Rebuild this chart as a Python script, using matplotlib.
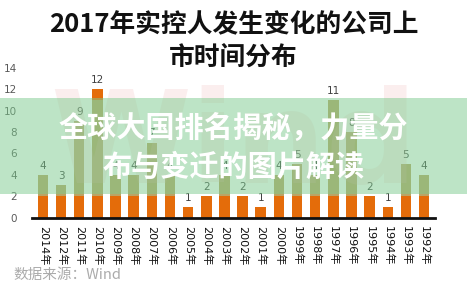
import matplotlib

matplotlib.use("Agg")
import matplotlib.pyplot as plt
import numpy as np

CJK = ["Noto Sans CJK SC", "DejaVu Sans"]

YEARS = [
    "2014年", "2012年", "2011年", "2010年", "2009年", "2008年", "2007年", "2006年",
    "2005年", "2004年", "2003年", "2002年", "2001年", "2000年", "1999年", "1998年",
    "1997年", "1996年", "1995年", "1994年", "1993年", "1992年",
]
# three stacked segments per listing year
BASE = [2, 2, 2, 2, 2, 2, 2, 2, 1, 2, 2, 2, 1, 2, 2, 2, 2, 2, 2, 1, 2, 2]
MIDDLE = [2, 1, 7, 9, 2, 2, 5, 2, 0, 0, 2, 0, 0, 2, 3, 2, 9, 6, 0, 0, 3, 2]
TOP = [0, 0, 0, 1, 0, 0, 0, 0, 0, 0, 0, 0, 0, 0, 0, 0, 0, 0, 0, 0, 0, 0]
Y_TICKS = [0, 2, 4, 6, 8, 10, 12, 14]

TITLE_LINES = ["2017年实控人发生变化的公司上", "市时间分布"]
BANNER_LINES = ["全球大国排名揭秘，力量分", "布与变迁的图片解读"]
SOURCE = "数据来源：Wind"

ORANGE = "#E46C0A"
OLIVE = "#BBA465"


def _draw_bars(ax) -> None:
    x = np.arange(len(YEARS))
    base = np.array(BASE, dtype=float)
    middle = np.array(MIDDLE, dtype=float)
    top = np.array(TOP, dtype=float)
    width = 0.58
    ax.bar(x, base, width=width, color=ORANGE, zorder=2)
    ax.bar(x, middle, width=width, bottom=base, color=OLIVE, zorder=2)
    ax.bar(x, top, width=width, bottom=base + middle, color=ORANGE, zorder=2)
    totals = base + middle + top
    for xi, total in zip(x, totals):
        ax.annotate(f"{int(total)}", (xi, total), xytext=(0, 3), textcoords="offset points",
                    ha="center", va="bottom", fontsize=7.5, color="#404040", zorder=3)

    ax.set_xticks(x)
    ax.set_xticklabels(YEARS, rotation=270, fontsize=8, family=["DejaVu Sans", "Noto Sans CJK SC"],
                       color="#111111")
    ax.set_yticks(Y_TICKS)
    ax.set_yticklabels([str(v) for v in Y_TICKS], fontsize=7.5, color="#595959")
    ax.set_xlim(-0.6, len(YEARS) - 0.4)
    ax.set_ylim(0, 14)
    ax.tick_params(axis="x", length=0, pad=6)
    ax.tick_params(axis="y", length=0, pad=11)
    for side in ("top", "right", "left"):
        ax.spines[side].set_visible(False)
    ax.spines["bottom"].set_linewidth(2.0)
    ax.spines["bottom"].set_color("#111111")
    ax.spines["bottom"].set_zorder(4)


def main() -> None:
    fig = plt.figure(figsize=(4.67, 2.95), dpi=100)
    fig.patch.set_facecolor("white")
    h = 295.0

    # faint watermark behind the plot
    fig.text(0.50, 0.50, "Wind", fontsize=92, fontweight="bold", color="#EDB5B5",
             alpha=0.22, ha="center", va="center", zorder=0)

    ax = fig.add_axes([0.0685, 0.2627, 0.863, 0.5078])
    ax.patch.set_alpha(0)
    _draw_bars(ax)

    for line, y_px in zip(TITLE_LINES, [25, 58]):
        fig.text(0.50, 1 - y_px / h, line, ha="center", va="center", fontsize=18.5,
                 fontweight="bold", family=CJK, color="#111111")
    fig.text(0.028, 1 - 275 / h, SOURCE, ha="left", va="center", fontsize=10.5, family=CJK,
             color="#ABABAB")

    # translucent green strip with the headline
    strip = plt.Rectangle((0, 1 - 194 / h), 1, 96 / h, transform=fig.transFigure,
                          facecolor="#7CCB8E", alpha=0.5, edgecolor="none", zorder=5)
    fig.patches.append(strip)
    for line, y_px in zip(BANNER_LINES, [128, 167]):
        fig.text(0.50, 1 - y_px / h, line, ha="center", va="center", fontsize=21,
                 fontweight="bold", family=CJK, color="white", zorder=6)

    fig.savefig("out.png", dpi=100)
    plt.close(fig)


if __name__ == "__main__":
    main()
